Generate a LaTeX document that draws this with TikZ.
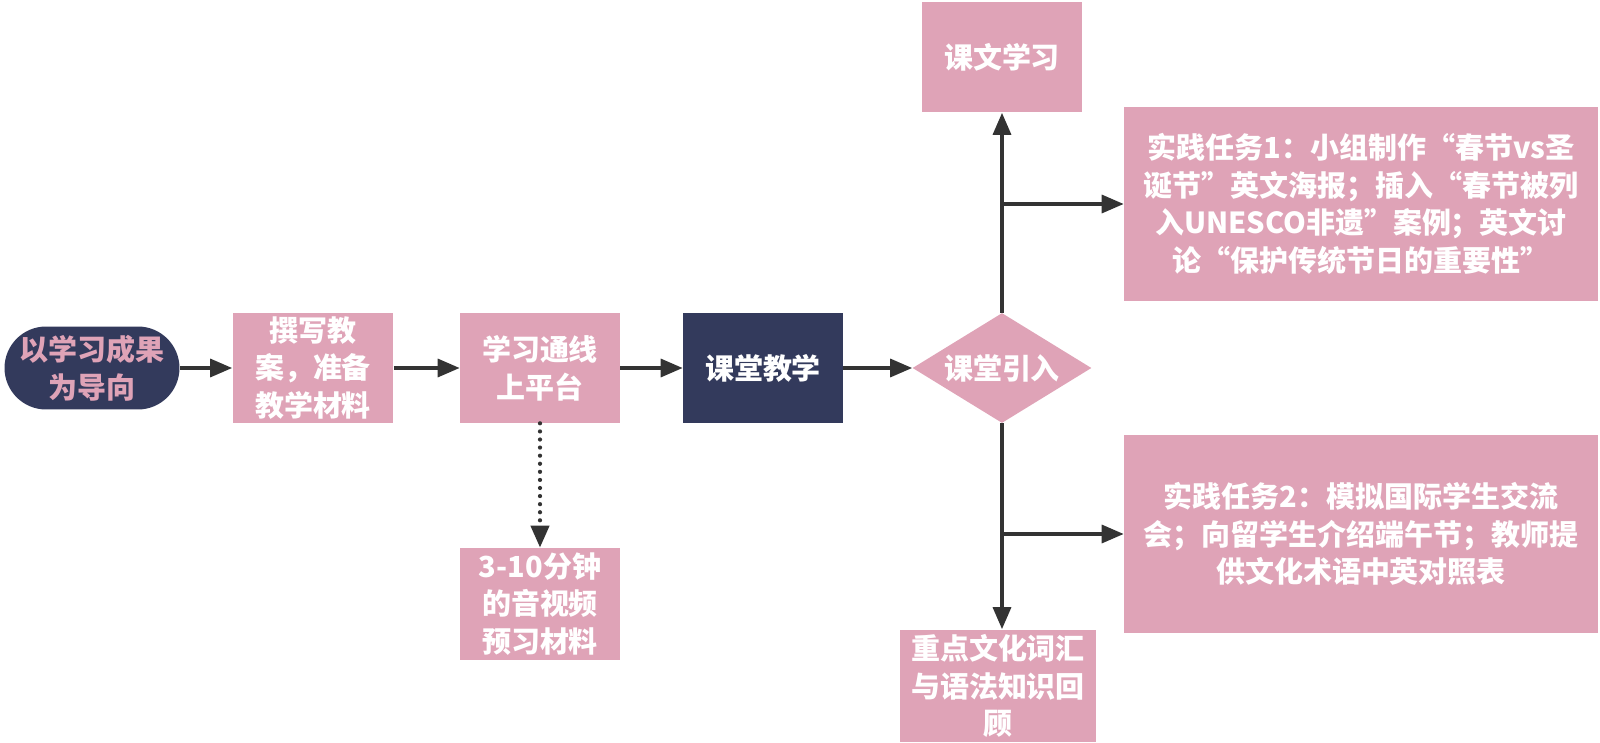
\documentclass[tikz,border=0pt]{standalone}
\usepackage{fontspec}
\setmainfont{Noto Sans CJK SC}
\usetikzlibrary{arrows.meta,shapes.geometric}
\definecolor{boxpink}{RGB}{223,163,183}
\definecolor{navy}{RGB}{51,58,92}
\definecolor{arrowgray}{RGB}{51,51,51}
\tikzset{
  pinkbox/.style={fill=boxpink,text=white,align=center,inner sep=0pt,
    font=\bfseries\fontsize{16.5}{21.5}\selectfont},
  navybox/.style={pinkbox,fill=navy},
  arr/.style={-{Triangle[length=0.44cm,width=0.36cm]},line width=1.9pt,draw=arrowgray},
  dotarr/.style={arr,line cap=round,dash pattern=on 0pt off 4.6pt,line width=2.4pt},
}
\begin{document}
\begin{tikzpicture}[x=0.02cm,y=-0.02cm]
\useasboundingbox (0,0) rectangle (1600,743);
% main row
\node [navybox,text=boxpink,rounded corners=0.83cm,minimum width=3.5cm,minimum height=1.66cm] (goal) at (92,368) {以学习成果\\为导向};
\node [pinkbox,minimum width=3.22cm,minimum height=2.2cm] (jiaoan) at (313,368) {撰写教\\案，准备\\教学材料};
\node [pinkbox,minimum width=3.2cm,minimum height=2.2cm] (pingtai) at (540,368) {学习通线\\上平台};
\node [navybox,minimum width=3.2cm,minimum height=2.2cm] (ketang) at (763,368) {课堂教学};
\node [pinkbox,diamond,aspect=1.63,minimum width=3.58cm,minimum height=2.2cm] (yinru) at (1002,368) {课堂引入};
% branches
\node [pinkbox,minimum width=3.22cm,minimum height=2.22cm] (kewen) at (1002,57) {课文学习};
\node [pinkbox,minimum width=9.48cm,minimum height=3.9cm] (task1) at (1361,204) {实践任务1：小组制作“春节vs圣\\诞节”英文海报；插入“春节被列\\入UNESCO非遗”案例；英文讨\\论“保护传统节日的重要性”};
\node [pinkbox,minimum width=9.48cm,minimum height=3.96cm] (task2) at (1361,534) {实践任务2：模拟国际学生交流\\会；向留学生介绍端午节；教师提\\供文化术语中英对照表};
\node [pinkbox,minimum width=3.94cm,minimum height=2.26cm] (cihui) at (998,686) {重点文化词汇\\与语法知识回\\顾};
\node [pinkbox,minimum width=3.22cm,minimum height=2.24cm] (yuxi) at (540,604) {3-10分钟\\的音视频\\预习材料};
% connectors
\draw [arr] (goal.east) -- (jiaoan.west);
\draw [arr] (jiaoan.east) -- (pingtai.west);
\draw [arr] (pingtai.east) -- (ketang.west);
\draw [arr] (ketang.east) -- (yinru.west);
\draw [dotarr] (pingtai.south) -- (yuxi.north);
\draw [arr] (yinru.north) -- (kewen.south);
\draw [arr] (yinru.north |- task1.west) -- (task1.west);
\draw [arr] (yinru.south) -- (yinru.south |- cihui.north);
\draw [arr] (yinru.south |- task2.west) -- (task2.west);
\end{tikzpicture}
\end{document}
